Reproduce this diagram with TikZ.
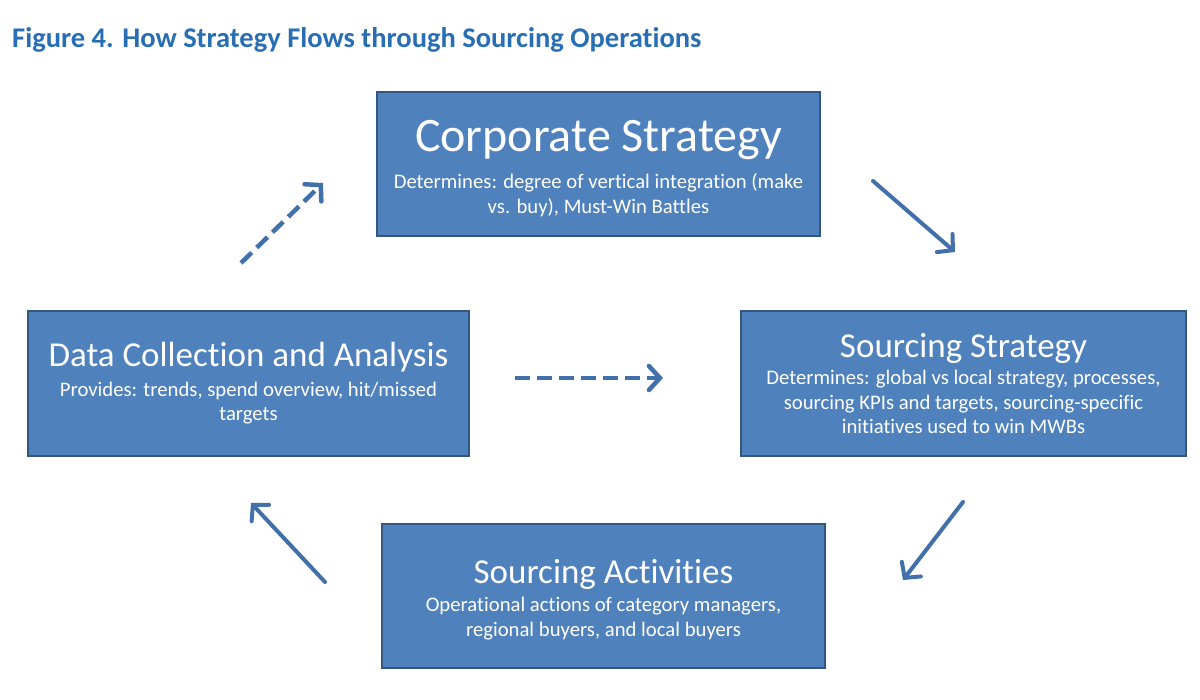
\documentclass[tikz,border=0pt]{standalone}
\usepackage{fontspec}
\setmainfont{Carlito}[RawFeature={-liga}]
\usetikzlibrary{arrows.meta,positioning}
\definecolor{boxblue}{RGB}{79,129,189}
\definecolor{boxedge}{RGB}{52,86,128}
\definecolor{arrowblue}{RGB}{66,112,170}
\definecolor{titleblue}{RGB}{40,110,180}

\begin{document}
\begin{tikzpicture}[x=1pt,y=-1pt,% pixel grid, y runs downwards
			every node/.style={
				align=center,		% so that "\\" breaks lines
				inner sep=0pt
			},
			stratbox/.style={
				rectangle,draw=boxedge,line width=2pt,fill=boxblue,
				text=white,font=\fontsize{20.7}{24.5}\selectfont,
				minimum width=443,minimum height=144
			},
			flow/.style={draw=arrowblue,line width=4pt,line cap=round,
				-{Straight Barb[length=11pt,width=24pt,line cap=round]}},
			feedback/.style={flow,line width=4.5pt,line cap=butt,dash pattern=on 15pt off 7pt}
		]
		\useasboundingbox (0,0) rectangle (1200,700);
		\node[anchor=base west,text=titleblue,font=\bfseries\fontsize{28.5}{30}\selectfont](title) at (12,48) {Figure 4. How Strategy Flows through Sourcing Operations};
		% the four stages
		\node[stratbox,font=\fontsize{20.7}{25}\selectfont](corp) at (598.5,164) {{\fontsize{48}{48}\selectfont\rule{0pt}{41pt}Corporate Strategy}\\[12pt] Determines: degree of vertical integration (make\\ vs. buy), Must-Win Battles};
		\node[stratbox,minimum width=445,minimum height=145](srcstrat) at (963.5,383.5) {{\fontsize{35}{35}\selectfont Sourcing Strategy}\\[3pt] Determines: global vs local strategy, processes,\\ sourcing KPIs and targets, sourcing-specific\\ initiatives used to win MWBs};
		\node[stratbox,minimum width=441,minimum height=145](data) at (248.5,383.5) {{\fontsize{35}{35}\selectfont Data Collection and Analysis}\\[5pt] Provides: trends, spend overview, hit/missed\\ targets};
		\node[stratbox](act) at (603.5,596) {{\fontsize{35}{35}\selectfont\rule{0pt}{31pt}Sourcing Activities}\\[4pt] Operational actions of category managers,\\ regional buyers, and local buyers};
		% arrow ends between the boxes
		\coordinate (c1) at (873,181);
		\coordinate (c2) at (955,252);
		\coordinate (s1) at (963,502);
		\coordinate (s2) at (903,580);
		\coordinate (a1) at (325,582);
		\coordinate (a2) at (251,503);
		\coordinate (d1) at (241,263);
		\coordinate (d2) at (323,183);
		\coordinate (h1) at (515,378);
		\coordinate (h2) at (663,378);
		\path
		(c1) edge [flow] (c2)
		(s1) edge [flow] (s2)
		(a1) edge [flow] (a2)
		(d1) edge [feedback] (d2)
		(h1) edge [feedback] (h2)
		;
	\end{tikzpicture}
\end{document}
